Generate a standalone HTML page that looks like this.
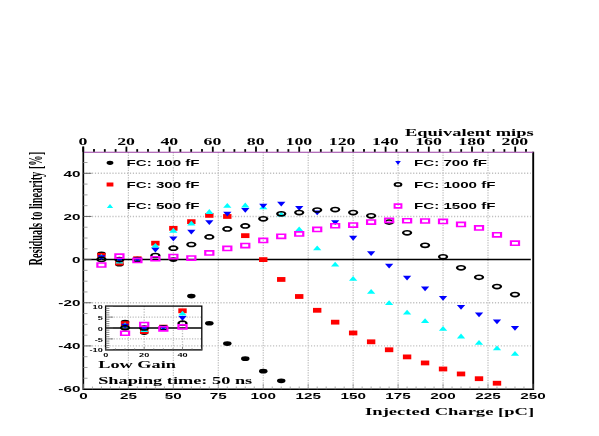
<!DOCTYPE html>
<html><head><meta charset="utf-8"><title>Residuals to linearity</title>
<style>
html,body{margin:0;padding:0;background:#fff;}
body{width:599px;height:436px;overflow:hidden;font-family:"Liberation Sans",sans-serif;}
svg{display:block;will-change:transform;}
</style></head><body>
<svg width="599" height="436" viewBox="0 0 599 436">
<rect width="599" height="436" fill="#fff"/>
<g stroke="#bcbcbc" stroke-width="1.2" stroke-dasharray="1.2 1.3" fill="none"><line x1="128.4" y1="152.2" x2="128.4" y2="389.3"/><line x1="173.35" y1="152.2" x2="173.35" y2="389.3"/><line x1="218.3" y1="152.2" x2="218.3" y2="389.3"/><line x1="263.25" y1="152.2" x2="263.25" y2="389.3"/><line x1="308.2" y1="152.2" x2="308.2" y2="389.3"/><line x1="353.15" y1="152.2" x2="353.15" y2="389.3"/><line x1="398.1" y1="152.2" x2="398.1" y2="389.3"/><line x1="443.05" y1="152.2" x2="443.05" y2="389.3"/><line x1="488" y1="152.2" x2="488" y2="389.3"/></g>
<g stroke="#c0c0c0" stroke-width="1.4" stroke-dasharray="1.2 1.72" fill="none"><line x1="83.2" y1="173.3" x2="530.8" y2="173.3"/><line x1="83.2" y1="216.45" x2="530.8" y2="216.45"/><line x1="83.2" y1="302.75" x2="530.8" y2="302.75"/><line x1="83.2" y1="345.9" x2="530.8" y2="345.9"/></g>
<line x1="83.2" y1="259.6" x2="530.8" y2="259.6" stroke="#000" stroke-width="1.5"/>
<line x1="83.3" y1="146.6" x2="83.3" y2="390" stroke="#000" stroke-width="1.7"/>
<line x1="533.2" y1="151.7" x2="533.2" y2="390" stroke="#000" stroke-width="1.9"/>
<line x1="83.2" y1="389.3" x2="533.3" y2="389.3" stroke="#000" stroke-width="1.5"/>
<line x1="83.9" y1="152.2" x2="533.3" y2="152.2" stroke="#9a3fa4" stroke-width="1.1"/>
<g stroke="#000" stroke-width="1.8"><line x1="83.2" y1="151.8" x2="83.2" y2="146.6"/><line x1="94" y1="151.8" x2="94" y2="149.1"/><line x1="104.8" y1="151.8" x2="104.8" y2="149.1"/><line x1="115.6" y1="151.8" x2="115.6" y2="149.1"/><line x1="126.4" y1="151.8" x2="126.4" y2="146.6"/><line x1="137.2" y1="151.8" x2="137.2" y2="149.1"/><line x1="148" y1="151.8" x2="148" y2="149.1"/><line x1="158.8" y1="151.8" x2="158.8" y2="149.1"/><line x1="169.6" y1="151.8" x2="169.6" y2="146.6"/><line x1="180.4" y1="151.8" x2="180.4" y2="149.1"/><line x1="191.2" y1="151.8" x2="191.2" y2="149.1"/><line x1="202" y1="151.8" x2="202" y2="149.1"/><line x1="212.8" y1="151.8" x2="212.8" y2="146.6"/><line x1="223.6" y1="151.8" x2="223.6" y2="149.1"/><line x1="234.4" y1="151.8" x2="234.4" y2="149.1"/><line x1="245.2" y1="151.8" x2="245.2" y2="149.1"/><line x1="256" y1="151.8" x2="256" y2="146.6"/><line x1="266.8" y1="151.8" x2="266.8" y2="149.1"/><line x1="277.6" y1="151.8" x2="277.6" y2="149.1"/><line x1="288.4" y1="151.8" x2="288.4" y2="149.1"/><line x1="299.2" y1="151.8" x2="299.2" y2="146.6"/><line x1="310" y1="151.8" x2="310" y2="149.1"/><line x1="320.8" y1="151.8" x2="320.8" y2="149.1"/><line x1="331.6" y1="151.8" x2="331.6" y2="149.1"/><line x1="342.4" y1="151.8" x2="342.4" y2="146.6"/><line x1="353.2" y1="151.8" x2="353.2" y2="149.1"/><line x1="364" y1="151.8" x2="364" y2="149.1"/><line x1="374.8" y1="151.8" x2="374.8" y2="149.1"/><line x1="385.6" y1="151.8" x2="385.6" y2="146.6"/><line x1="396.4" y1="151.8" x2="396.4" y2="149.1"/><line x1="407.2" y1="151.8" x2="407.2" y2="149.1"/><line x1="418" y1="151.8" x2="418" y2="149.1"/><line x1="428.8" y1="151.8" x2="428.8" y2="146.6"/><line x1="439.6" y1="151.8" x2="439.6" y2="149.1"/><line x1="450.4" y1="151.8" x2="450.4" y2="149.1"/><line x1="461.2" y1="151.8" x2="461.2" y2="149.1"/><line x1="472" y1="151.8" x2="472" y2="146.6"/><line x1="482.8" y1="151.8" x2="482.8" y2="149.1"/><line x1="493.6" y1="151.8" x2="493.6" y2="149.1"/><line x1="504.4" y1="151.8" x2="504.4" y2="149.1"/><line x1="515.2" y1="151.8" x2="515.2" y2="146.6"/><line x1="526" y1="151.8" x2="526" y2="149.1"/></g>
<g stroke="#888" stroke-width="0.7"><line x1="83.45" y1="389.3" x2="83.45" y2="383.8"/><line x1="92.44" y1="389.3" x2="92.44" y2="386.5"/><line x1="101.43" y1="389.3" x2="101.43" y2="386.5"/><line x1="110.42" y1="389.3" x2="110.42" y2="386.5"/><line x1="119.41" y1="389.3" x2="119.41" y2="386.5"/><line x1="128.4" y1="389.3" x2="128.4" y2="383.8"/><line x1="137.39" y1="389.3" x2="137.39" y2="386.5"/><line x1="146.38" y1="389.3" x2="146.38" y2="386.5"/><line x1="155.37" y1="389.3" x2="155.37" y2="386.5"/><line x1="164.36" y1="389.3" x2="164.36" y2="386.5"/><line x1="173.35" y1="389.3" x2="173.35" y2="383.8"/><line x1="182.34" y1="389.3" x2="182.34" y2="386.5"/><line x1="191.33" y1="389.3" x2="191.33" y2="386.5"/><line x1="200.32" y1="389.3" x2="200.32" y2="386.5"/><line x1="209.31" y1="389.3" x2="209.31" y2="386.5"/><line x1="218.3" y1="389.3" x2="218.3" y2="383.8"/><line x1="227.29" y1="389.3" x2="227.29" y2="386.5"/><line x1="236.28" y1="389.3" x2="236.28" y2="386.5"/><line x1="245.27" y1="389.3" x2="245.27" y2="386.5"/><line x1="254.26" y1="389.3" x2="254.26" y2="386.5"/><line x1="263.25" y1="389.3" x2="263.25" y2="383.8"/><line x1="272.24" y1="389.3" x2="272.24" y2="386.5"/><line x1="281.23" y1="389.3" x2="281.23" y2="386.5"/><line x1="290.22" y1="389.3" x2="290.22" y2="386.5"/><line x1="299.21" y1="389.3" x2="299.21" y2="386.5"/><line x1="308.2" y1="389.3" x2="308.2" y2="383.8"/><line x1="317.19" y1="389.3" x2="317.19" y2="386.5"/><line x1="326.18" y1="389.3" x2="326.18" y2="386.5"/><line x1="335.17" y1="389.3" x2="335.17" y2="386.5"/><line x1="344.16" y1="389.3" x2="344.16" y2="386.5"/><line x1="353.15" y1="389.3" x2="353.15" y2="383.8"/><line x1="362.14" y1="389.3" x2="362.14" y2="386.5"/><line x1="371.13" y1="389.3" x2="371.13" y2="386.5"/><line x1="380.12" y1="389.3" x2="380.12" y2="386.5"/><line x1="389.11" y1="389.3" x2="389.11" y2="386.5"/><line x1="398.1" y1="389.3" x2="398.1" y2="383.8"/><line x1="407.09" y1="389.3" x2="407.09" y2="386.5"/><line x1="416.08" y1="389.3" x2="416.08" y2="386.5"/><line x1="425.07" y1="389.3" x2="425.07" y2="386.5"/><line x1="434.06" y1="389.3" x2="434.06" y2="386.5"/><line x1="443.05" y1="389.3" x2="443.05" y2="383.8"/><line x1="452.04" y1="389.3" x2="452.04" y2="386.5"/><line x1="461.03" y1="389.3" x2="461.03" y2="386.5"/><line x1="470.02" y1="389.3" x2="470.02" y2="386.5"/><line x1="479.01" y1="389.3" x2="479.01" y2="386.5"/><line x1="488" y1="389.3" x2="488" y2="383.8"/><line x1="496.99" y1="389.3" x2="496.99" y2="386.5"/><line x1="505.98" y1="389.3" x2="505.98" y2="386.5"/><line x1="514.97" y1="389.3" x2="514.97" y2="386.5"/><line x1="523.96" y1="389.3" x2="523.96" y2="386.5"/><line x1="532.95" y1="389.3" x2="532.95" y2="383.8"/></g>
<g stroke="#555" stroke-width="0.9"><line x1="83.2" y1="345.9" x2="91.5" y2="345.9"/><line x1="83.2" y1="302.75" x2="91.5" y2="302.75"/><line x1="83.2" y1="259.6" x2="91.5" y2="259.6"/><line x1="83.2" y1="216.45" x2="91.5" y2="216.45"/><line x1="83.2" y1="173.3" x2="91.5" y2="173.3"/></g>
<g stroke="#8a8a8a" stroke-width="0.8"><line x1="83.2" y1="378.26" x2="87.5" y2="378.26"/><line x1="83.2" y1="367.48" x2="87.5" y2="367.48"/><line x1="83.2" y1="356.69" x2="87.5" y2="356.69"/><line x1="83.2" y1="335.11" x2="87.5" y2="335.11"/><line x1="83.2" y1="324.33" x2="87.5" y2="324.33"/><line x1="83.2" y1="313.54" x2="87.5" y2="313.54"/><line x1="83.2" y1="291.96" x2="87.5" y2="291.96"/><line x1="83.2" y1="281.18" x2="87.5" y2="281.18"/><line x1="83.2" y1="270.39" x2="87.5" y2="270.39"/><line x1="83.2" y1="248.81" x2="87.5" y2="248.81"/><line x1="83.2" y1="238.03" x2="87.5" y2="238.03"/><line x1="83.2" y1="227.24" x2="87.5" y2="227.24"/><line x1="83.2" y1="205.66" x2="87.5" y2="205.66"/><line x1="83.2" y1="194.88" x2="87.5" y2="194.88"/><line x1="83.2" y1="184.09" x2="87.5" y2="184.09"/><line x1="83.2" y1="162.51" x2="87.5" y2="162.51"/></g>
<text transform="translate(80.4 176.7) scale(1.59 1)" font-family="Liberation Sans" font-weight="bold" font-size="9.6" text-anchor="end">40</text>
<text transform="translate(80.4 219.85) scale(1.59 1)" font-family="Liberation Sans" font-weight="bold" font-size="9.6" text-anchor="end">20</text>
<text transform="translate(80.4 263) scale(1.59 1)" font-family="Liberation Sans" font-weight="bold" font-size="9.6" text-anchor="end">0</text>
<text transform="translate(80.4 306.15) scale(1.59 1)" font-family="Liberation Sans" font-weight="bold" font-size="9.6" text-anchor="end">-20</text>
<text transform="translate(80.4 349.3) scale(1.59 1)" font-family="Liberation Sans" font-weight="bold" font-size="9.6" text-anchor="end">-40</text>
<text transform="translate(80.4 392.45) scale(1.59 1)" font-family="Liberation Sans" font-weight="bold" font-size="9.6" text-anchor="end">-60</text>
<text transform="translate(83.45 398.6) scale(1.59 1)" font-family="Liberation Sans" font-weight="bold" font-size="9.6" text-anchor="middle">0</text>
<text transform="translate(128.4 398.6) scale(1.59 1)" font-family="Liberation Sans" font-weight="bold" font-size="9.6" text-anchor="middle">25</text>
<text transform="translate(173.35 398.6) scale(1.59 1)" font-family="Liberation Sans" font-weight="bold" font-size="9.6" text-anchor="middle">50</text>
<text transform="translate(218.3 398.6) scale(1.59 1)" font-family="Liberation Sans" font-weight="bold" font-size="9.6" text-anchor="middle">75</text>
<text transform="translate(263.25 398.6) scale(1.59 1)" font-family="Liberation Sans" font-weight="bold" font-size="9.6" text-anchor="middle">100</text>
<text transform="translate(308.2 398.6) scale(1.59 1)" font-family="Liberation Sans" font-weight="bold" font-size="9.6" text-anchor="middle">125</text>
<text transform="translate(353.15 398.6) scale(1.59 1)" font-family="Liberation Sans" font-weight="bold" font-size="9.6" text-anchor="middle">150</text>
<text transform="translate(398.1 398.6) scale(1.59 1)" font-family="Liberation Sans" font-weight="bold" font-size="9.6" text-anchor="middle">175</text>
<text transform="translate(443.05 398.6) scale(1.59 1)" font-family="Liberation Sans" font-weight="bold" font-size="9.6" text-anchor="middle">200</text>
<text transform="translate(488 398.6) scale(1.59 1)" font-family="Liberation Sans" font-weight="bold" font-size="9.6" text-anchor="middle">225</text>
<text transform="translate(532.95 398.6) scale(1.59 1)" font-family="Liberation Sans" font-weight="bold" font-size="9.6" text-anchor="middle">250</text>
<text transform="translate(82.9 144.6) scale(1.82 1)" font-family="Liberation Serif" font-weight="bold" font-size="9.8" text-anchor="middle">0</text>
<text transform="translate(126.1 144.6) scale(1.82 1)" font-family="Liberation Serif" font-weight="bold" font-size="9.8" text-anchor="middle">20</text>
<text transform="translate(169.3 144.6) scale(1.82 1)" font-family="Liberation Serif" font-weight="bold" font-size="9.8" text-anchor="middle">40</text>
<text transform="translate(212.5 144.6) scale(1.82 1)" font-family="Liberation Serif" font-weight="bold" font-size="9.8" text-anchor="middle">60</text>
<text transform="translate(255.7 144.6) scale(1.82 1)" font-family="Liberation Serif" font-weight="bold" font-size="9.8" text-anchor="middle">80</text>
<text transform="translate(298.9 144.6) scale(1.82 1)" font-family="Liberation Serif" font-weight="bold" font-size="9.8" text-anchor="middle">100</text>
<text transform="translate(342.1 144.6) scale(1.82 1)" font-family="Liberation Serif" font-weight="bold" font-size="9.8" text-anchor="middle">120</text>
<text transform="translate(385.3 144.6) scale(1.82 1)" font-family="Liberation Serif" font-weight="bold" font-size="9.8" text-anchor="middle">140</text>
<text transform="translate(428.5 144.6) scale(1.82 1)" font-family="Liberation Serif" font-weight="bold" font-size="9.8" text-anchor="middle">160</text>
<text transform="translate(471.7 144.6) scale(1.82 1)" font-family="Liberation Serif" font-weight="bold" font-size="9.8" text-anchor="middle">180</text>
<text transform="translate(514.9 144.6) scale(1.82 1)" font-family="Liberation Serif" font-weight="bold" font-size="9.8" text-anchor="middle">200</text>
<text transform="translate(533.7 135.5) scale(1.81 1)" font-family="Liberation Serif" font-weight="bold" font-size="10.2" text-anchor="end">Equivalent mips</text>
<text transform="translate(534.1 415) scale(1.82 1)" font-family="Liberation Serif" font-weight="bold" font-size="10.2" text-anchor="end">Injected Charge [pC]</text>
<text transform="translate(98.2 367.7) scale(1.76 1)" font-family="Liberation Serif" font-weight="bold" font-size="10.4" text-anchor="start">Low Gain</text>
<text transform="translate(98.2 383.6) scale(1.76 1)" font-family="Liberation Serif" font-weight="bold" font-size="10.4" text-anchor="start">Shaping time: 50 ns</text>
<text transform="translate(41.7 265.4) rotate(-90) scale(1 1.78)" font-family="Liberation Serif" font-weight="bold" font-size="10.35" text-anchor="start">Residuals to linearity [%]</text>
<text transform="translate(126.5 166) scale(1.68 1)" font-family="Liberation Sans" font-weight="bold" font-size="9" text-anchor="start">FC: 100 fF</text>
<text transform="translate(126.5 187.7) scale(1.68 1)" font-family="Liberation Sans" font-weight="bold" font-size="9" text-anchor="start">FC: 300 fF</text>
<text transform="translate(126.5 209.4) scale(1.68 1)" font-family="Liberation Sans" font-weight="bold" font-size="9" text-anchor="start">FC: 500 fF</text>
<text transform="translate(414 166) scale(1.68 1)" font-family="Liberation Sans" font-weight="bold" font-size="9" text-anchor="start">FC: 700 fF</text>
<text transform="translate(414 187.7) scale(1.68 1)" font-family="Liberation Sans" font-weight="bold" font-size="9" text-anchor="start">FC: 1000 fF</text>
<text transform="translate(414 209.4) scale(1.68 1)" font-family="Liberation Sans" font-weight="bold" font-size="9" text-anchor="start">FC: 1500 fF</text>
<ellipse cx="110" cy="162.8" rx="3.4" ry="2.1" fill="#000"/>
<rect x="106.6" y="182.5" width="6.8" height="4" fill="#ff0000"/>
<path d="M106.8 208.1L113.2 208.1L110 203.9Z" fill="#00ffff"/>
<path d="M395.2 161L400.8 161L398 165Z" fill="#0000ff"/>
<path d="M393.6 184.5A4.4 2.5 0 1 0 402.4 184.5A4.4 2.5 0 1 0 393.6 184.5ZM395.7 184.5A2.3 1 0 1 0 400.3 184.5A2.3 1 0 1 0 395.7 184.5Z" fill="#000" fill-rule="evenodd"/>
<path d="M393.6 203.3H402.4V208.7H393.6ZM395.6 204.9H400.4V207.1H395.6Z" fill="#ff00ff" fill-rule="evenodd"/>
<ellipse cx="101.43" cy="253.77" rx="4.25" ry="2.35" fill="#000"/>
<ellipse cx="119.41" cy="264.13" rx="4.25" ry="2.35" fill="#000"/>
<ellipse cx="137.39" cy="259.6" rx="4.25" ry="2.35" fill="#000"/>
<ellipse cx="173.35" cy="259.6" rx="4.25" ry="2.35" fill="#000"/>
<ellipse cx="191.33" cy="296.06" rx="4.25" ry="2.35" fill="#000"/>
<ellipse cx="209.31" cy="323.25" rx="4.25" ry="2.35" fill="#000"/>
<ellipse cx="227.29" cy="343.53" rx="4.25" ry="2.35" fill="#000"/>
<ellipse cx="245.27" cy="358.63" rx="4.25" ry="2.35" fill="#000"/>
<ellipse cx="263.25" cy="371.14" rx="4.25" ry="2.35" fill="#000"/>
<ellipse cx="281.23" cy="380.85" rx="4.25" ry="2.35" fill="#000"/>
<rect x="97.23" y="252.89" width="8.4" height="4.8" fill="#ff0000"/>
<rect x="115.21" y="260.65" width="8.4" height="4.8" fill="#ff0000"/>
<rect x="133.19" y="256.34" width="8.4" height="4.8" fill="#ff0000"/>
<rect x="151.17" y="240.8" width="8.4" height="4.8" fill="#ff0000"/>
<rect x="169.15" y="225.92" width="8.4" height="4.8" fill="#ff0000"/>
<rect x="187.13" y="219.23" width="8.4" height="4.8" fill="#ff0000"/>
<rect x="205.11" y="212.97" width="8.4" height="4.8" fill="#ff0000"/>
<rect x="223.09" y="214.05" width="8.4" height="4.8" fill="#ff0000"/>
<rect x="241.07" y="233.25" width="8.4" height="4.8" fill="#ff0000"/>
<rect x="259.05" y="257.2" width="8.4" height="4.8" fill="#ff0000"/>
<rect x="277.03" y="277.05" width="8.4" height="4.8" fill="#ff0000"/>
<rect x="295.01" y="294.09" width="8.4" height="4.8" fill="#ff0000"/>
<rect x="312.99" y="307.9" width="8.4" height="4.8" fill="#ff0000"/>
<rect x="330.97" y="319.77" width="8.4" height="4.8" fill="#ff0000"/>
<rect x="348.95" y="330.56" width="8.4" height="4.8" fill="#ff0000"/>
<rect x="366.93" y="339.4" width="8.4" height="4.8" fill="#ff0000"/>
<rect x="384.91" y="347.38" width="8.4" height="4.8" fill="#ff0000"/>
<rect x="402.89" y="354.5" width="8.4" height="4.8" fill="#ff0000"/>
<rect x="420.87" y="360.54" width="8.4" height="4.8" fill="#ff0000"/>
<rect x="438.85" y="366.59" width="8.4" height="4.8" fill="#ff0000"/>
<rect x="456.83" y="371.55" width="8.4" height="4.8" fill="#ff0000"/>
<rect x="474.81" y="376.29" width="8.4" height="4.8" fill="#ff0000"/>
<rect x="492.79" y="380.82" width="8.4" height="4.8" fill="#ff0000"/>
<path d="M97.28 258.76L105.58 258.76L101.43 253.96Z" fill="#00ffff"/>
<path d="M115.26 263.51L123.56 263.51L119.41 258.71Z" fill="#00ffff"/>
<path d="M133.24 262L141.54 262L137.39 257.2Z" fill="#00ffff"/>
<path d="M151.22 247.76L159.52 247.76L155.37 242.96Z" fill="#00ffff"/>
<path d="M169.2 232.66L177.5 232.66L173.35 227.86Z" fill="#00ffff"/>
<path d="M187.18 225.54L195.48 225.54L191.33 220.74Z" fill="#00ffff"/>
<path d="M205.16 213.89L213.46 213.89L209.31 209.09Z" fill="#00ffff"/>
<path d="M223.14 207.85L231.44 207.85L227.29 203.05Z" fill="#00ffff"/>
<path d="M241.12 207.42L249.42 207.42L245.27 202.62Z" fill="#00ffff"/>
<path d="M259.1 209.36L267.4 209.36L263.25 204.56Z" fill="#00ffff"/>
<path d="M277.08 216.48L285.38 216.48L281.23 211.68Z" fill="#00ffff"/>
<path d="M295.06 231.36L303.36 231.36L299.21 226.56Z" fill="#00ffff"/>
<path d="M313.04 250.35L321.34 250.35L317.19 245.55Z" fill="#00ffff"/>
<path d="M331.02 266.53L339.32 266.53L335.17 261.73Z" fill="#00ffff"/>
<path d="M349 280.77L357.3 280.77L353.15 275.97Z" fill="#00ffff"/>
<path d="M366.98 293.72L375.28 293.72L371.13 288.92Z" fill="#00ffff"/>
<path d="M384.96 304.93L393.26 304.93L389.11 300.13Z" fill="#00ffff"/>
<path d="M402.94 314.43L411.24 314.43L407.09 309.63Z" fill="#00ffff"/>
<path d="M420.92 323.06L429.22 323.06L425.07 318.26Z" fill="#00ffff"/>
<path d="M438.9 330.82L447.2 330.82L443.05 326.02Z" fill="#00ffff"/>
<path d="M456.88 338.38L465.18 338.38L461.03 333.58Z" fill="#00ffff"/>
<path d="M474.86 344.85L483.16 344.85L479.01 340.05Z" fill="#00ffff"/>
<path d="M492.84 350.24L501.14 350.24L496.99 345.44Z" fill="#00ffff"/>
<path d="M510.82 355.85L519.12 355.85L514.97 351.05Z" fill="#00ffff"/>
<path d="M97.28 255.26L105.58 255.26L101.43 260.06Z" fill="#0000ff"/>
<path d="M115.26 257.63L123.56 257.63L119.41 262.43Z" fill="#0000ff"/>
<path d="M133.24 257.2L141.54 257.2L137.39 262Z" fill="#0000ff"/>
<path d="M151.22 247.71L159.52 247.71L155.37 252.51Z" fill="#0000ff"/>
<path d="M169.2 236.49L177.5 236.49L173.35 241.29Z" fill="#0000ff"/>
<path d="M187.18 229.8L195.48 229.8L191.33 234.6Z" fill="#0000ff"/>
<path d="M205.16 220.31L213.46 220.31L209.31 225.11Z" fill="#0000ff"/>
<path d="M223.14 211.68L231.44 211.68L227.29 216.48Z" fill="#0000ff"/>
<path d="M241.12 208.01L249.42 208.01L245.27 212.81Z" fill="#0000ff"/>
<path d="M259.1 203.69L267.4 203.69L263.25 208.49Z" fill="#0000ff"/>
<path d="M277.08 201.75L285.38 201.75L281.23 206.55Z" fill="#0000ff"/>
<path d="M295.06 206.07L303.36 206.07L299.21 210.87Z" fill="#0000ff"/>
<path d="M313.04 210.38L321.34 210.38L317.19 215.18Z" fill="#0000ff"/>
<path d="M331.02 220.31L339.32 220.31L335.17 225.11Z" fill="#0000ff"/>
<path d="M349 235.84L357.3 235.84L353.15 240.64Z" fill="#0000ff"/>
<path d="M366.98 251.16L375.28 251.16L371.13 255.96Z" fill="#0000ff"/>
<path d="M384.96 263.67L393.26 263.67L389.11 268.47Z" fill="#0000ff"/>
<path d="M402.94 275.75L411.24 275.75L407.09 280.55Z" fill="#0000ff"/>
<path d="M420.92 286.54L429.22 286.54L425.07 291.34Z" fill="#0000ff"/>
<path d="M438.9 296.04L447.2 296.04L443.05 300.83Z" fill="#0000ff"/>
<path d="M456.88 304.88L465.18 304.88L461.03 309.68Z" fill="#0000ff"/>
<path d="M474.86 312.43L483.16 312.43L479.01 317.23Z" fill="#0000ff"/>
<path d="M492.84 319.55L501.14 319.55L496.99 324.35Z" fill="#0000ff"/>
<path d="M510.82 326.02L519.12 326.02L514.97 330.82Z" fill="#0000ff"/>
<path d="M96.28 259.38A5.15 2.85 0 1 0 106.58 259.38A5.15 2.85 0 1 0 96.28 259.38ZM98.53 259.38A2.9 1.25 0 1 0 104.33 259.38A2.9 1.25 0 1 0 98.53 259.38Z" fill="#000" fill-rule="evenodd"/>
<path d="M114.26 259.6A5.15 2.85 0 1 0 124.56 259.6A5.15 2.85 0 1 0 114.26 259.6ZM116.51 259.6A2.9 1.25 0 1 0 122.31 259.6A2.9 1.25 0 1 0 116.51 259.6Z" fill="#000" fill-rule="evenodd"/>
<path d="M132.24 259.6A5.15 2.85 0 1 0 142.54 259.6A5.15 2.85 0 1 0 132.24 259.6ZM134.49 259.6A2.9 1.25 0 1 0 140.29 259.6A2.9 1.25 0 1 0 134.49 259.6Z" fill="#000" fill-rule="evenodd"/>
<path d="M150.22 255.5A5.15 2.85 0 1 0 160.52 255.5A5.15 2.85 0 1 0 150.22 255.5ZM152.47 255.5A2.9 1.25 0 1 0 158.27 255.5A2.9 1.25 0 1 0 152.47 255.5Z" fill="#000" fill-rule="evenodd"/>
<path d="M168.2 248.17A5.15 2.85 0 1 0 178.5 248.17A5.15 2.85 0 1 0 168.2 248.17ZM170.45 248.17A2.9 1.25 0 1 0 176.25 248.17A2.9 1.25 0 1 0 170.45 248.17Z" fill="#000" fill-rule="evenodd"/>
<path d="M186.18 244.5A5.15 2.85 0 1 0 196.48 244.5A5.15 2.85 0 1 0 186.18 244.5ZM188.43 244.5A2.9 1.25 0 1 0 194.23 244.5A2.9 1.25 0 1 0 188.43 244.5Z" fill="#000" fill-rule="evenodd"/>
<path d="M204.16 236.95A5.15 2.85 0 1 0 214.46 236.95A5.15 2.85 0 1 0 204.16 236.95ZM206.41 236.95A2.9 1.25 0 1 0 212.21 236.95A2.9 1.25 0 1 0 206.41 236.95Z" fill="#000" fill-rule="evenodd"/>
<path d="M222.14 228.96A5.15 2.85 0 1 0 232.44 228.96A5.15 2.85 0 1 0 222.14 228.96ZM224.39 228.96A2.9 1.25 0 1 0 230.19 228.96A2.9 1.25 0 1 0 224.39 228.96Z" fill="#000" fill-rule="evenodd"/>
<path d="M240.12 225.94A5.15 2.85 0 1 0 250.42 225.94A5.15 2.85 0 1 0 240.12 225.94ZM242.37 225.94A2.9 1.25 0 1 0 248.17 225.94A2.9 1.25 0 1 0 242.37 225.94Z" fill="#000" fill-rule="evenodd"/>
<path d="M258.1 218.82A5.15 2.85 0 1 0 268.4 218.82A5.15 2.85 0 1 0 258.1 218.82ZM260.35 218.82A2.9 1.25 0 1 0 266.15 218.82A2.9 1.25 0 1 0 260.35 218.82Z" fill="#000" fill-rule="evenodd"/>
<path d="M276.08 213.86A5.15 2.85 0 1 0 286.38 213.86A5.15 2.85 0 1 0 276.08 213.86ZM278.33 213.86A2.9 1.25 0 1 0 284.13 213.86A2.9 1.25 0 1 0 278.33 213.86Z" fill="#000" fill-rule="evenodd"/>
<path d="M294.06 212.57A5.15 2.85 0 1 0 304.36 212.57A5.15 2.85 0 1 0 294.06 212.57ZM296.31 212.57A2.9 1.25 0 1 0 302.11 212.57A2.9 1.25 0 1 0 296.31 212.57Z" fill="#000" fill-rule="evenodd"/>
<path d="M312.04 209.98A5.15 2.85 0 1 0 322.34 209.98A5.15 2.85 0 1 0 312.04 209.98ZM314.29 209.98A2.9 1.25 0 1 0 320.09 209.98A2.9 1.25 0 1 0 314.29 209.98Z" fill="#000" fill-rule="evenodd"/>
<path d="M330.02 209.55A5.15 2.85 0 1 0 340.32 209.55A5.15 2.85 0 1 0 330.02 209.55ZM332.27 209.55A2.9 1.25 0 1 0 338.07 209.55A2.9 1.25 0 1 0 332.27 209.55Z" fill="#000" fill-rule="evenodd"/>
<path d="M348 212.57A5.15 2.85 0 1 0 358.3 212.57A5.15 2.85 0 1 0 348 212.57ZM350.25 212.57A2.9 1.25 0 1 0 356.05 212.57A2.9 1.25 0 1 0 350.25 212.57Z" fill="#000" fill-rule="evenodd"/>
<path d="M365.98 215.8A5.15 2.85 0 1 0 376.28 215.8A5.15 2.85 0 1 0 365.98 215.8ZM368.23 215.8A2.9 1.25 0 1 0 374.03 215.8A2.9 1.25 0 1 0 368.23 215.8Z" fill="#000" fill-rule="evenodd"/>
<path d="M383.96 222.06A5.15 2.85 0 1 0 394.26 222.06A5.15 2.85 0 1 0 383.96 222.06ZM386.21 222.06A2.9 1.25 0 1 0 392.01 222.06A2.9 1.25 0 1 0 386.21 222.06Z" fill="#000" fill-rule="evenodd"/>
<path d="M401.94 232.85A5.15 2.85 0 1 0 412.24 232.85A5.15 2.85 0 1 0 401.94 232.85ZM404.19 232.85A2.9 1.25 0 1 0 409.99 232.85A2.9 1.25 0 1 0 404.19 232.85Z" fill="#000" fill-rule="evenodd"/>
<path d="M419.92 245.36A5.15 2.85 0 1 0 430.22 245.36A5.15 2.85 0 1 0 419.92 245.36ZM422.17 245.36A2.9 1.25 0 1 0 427.97 245.36A2.9 1.25 0 1 0 422.17 245.36Z" fill="#000" fill-rule="evenodd"/>
<path d="M437.9 256.8A5.15 2.85 0 1 0 448.2 256.8A5.15 2.85 0 1 0 437.9 256.8ZM440.15 256.8A2.9 1.25 0 1 0 445.95 256.8A2.9 1.25 0 1 0 440.15 256.8Z" fill="#000" fill-rule="evenodd"/>
<path d="M455.88 267.8A5.15 2.85 0 1 0 466.18 267.8A5.15 2.85 0 1 0 455.88 267.8ZM458.13 267.8A2.9 1.25 0 1 0 463.93 267.8A2.9 1.25 0 1 0 458.13 267.8Z" fill="#000" fill-rule="evenodd"/>
<path d="M473.86 277.29A5.15 2.85 0 1 0 484.16 277.29A5.15 2.85 0 1 0 473.86 277.29ZM476.11 277.29A2.9 1.25 0 1 0 481.91 277.29A2.9 1.25 0 1 0 476.11 277.29Z" fill="#000" fill-rule="evenodd"/>
<path d="M491.84 286.57A5.15 2.85 0 1 0 502.14 286.57A5.15 2.85 0 1 0 491.84 286.57ZM494.09 286.57A2.9 1.25 0 1 0 499.89 286.57A2.9 1.25 0 1 0 494.09 286.57Z" fill="#000" fill-rule="evenodd"/>
<path d="M509.82 294.55A5.15 2.85 0 1 0 520.12 294.55A5.15 2.85 0 1 0 509.82 294.55ZM512.07 294.55A2.9 1.25 0 1 0 517.87 294.55A2.9 1.25 0 1 0 512.07 294.55Z" fill="#000" fill-rule="evenodd"/>
<path d="M96.28 262.14H106.58V267.84H96.28ZM98.48 263.74H104.38V266.24H98.48Z" fill="#ff00ff" fill-rule="evenodd"/>
<path d="M114.26 253.3H124.56V259H114.26ZM116.46 254.9H122.36V257.4H116.46Z" fill="#ff00ff" fill-rule="evenodd"/>
<path d="M132.24 257.61H142.54V263.31H132.24ZM134.44 259.21H140.34V261.71H134.44Z" fill="#ff00ff" fill-rule="evenodd"/>
<path d="M150.22 255.89H160.52V261.59H150.22ZM152.42 257.49H158.32V259.99H152.42Z" fill="#ff00ff" fill-rule="evenodd"/>
<path d="M168.2 253.73H178.5V259.43H168.2ZM170.4 255.33H176.3V257.83H170.4Z" fill="#ff00ff" fill-rule="evenodd"/>
<path d="M186.18 255.24H196.48V260.94H186.18ZM188.38 256.84H194.28V259.34H188.38Z" fill="#ff00ff" fill-rule="evenodd"/>
<path d="M204.16 250.06H214.46V255.76H204.16ZM206.36 251.66H212.26V254.16H206.36Z" fill="#ff00ff" fill-rule="evenodd"/>
<path d="M222.14 245.53H232.44V251.23H222.14ZM224.34 247.13H230.24V249.63H224.34Z" fill="#ff00ff" fill-rule="evenodd"/>
<path d="M240.12 242.73H250.42V248.43H240.12ZM242.32 244.33H248.22V246.83H242.32Z" fill="#ff00ff" fill-rule="evenodd"/>
<path d="M258.1 237.55H268.4V243.25H258.1ZM260.3 239.15H266.2V241.65H260.3Z" fill="#ff00ff" fill-rule="evenodd"/>
<path d="M276.08 233.45H286.38V239.15H276.08ZM278.28 235.05H284.18V237.55H278.28Z" fill="#ff00ff" fill-rule="evenodd"/>
<path d="M294.06 231.08H304.36V236.78H294.06ZM296.26 232.68H302.16V235.18H296.26Z" fill="#ff00ff" fill-rule="evenodd"/>
<path d="M312.04 226.55H322.34V232.25H312.04ZM314.24 228.15H320.14V230.65H314.24Z" fill="#ff00ff" fill-rule="evenodd"/>
<path d="M330.02 222.88H340.32V228.58H330.02ZM332.22 224.48H338.12V226.98H332.22Z" fill="#ff00ff" fill-rule="evenodd"/>
<path d="M348 222.23H358.3V227.93H348ZM350.2 223.83H356.1V226.33H350.2Z" fill="#ff00ff" fill-rule="evenodd"/>
<path d="M365.98 219.21H376.28V224.91H365.98ZM368.18 220.81H374.08V223.31H368.18Z" fill="#ff00ff" fill-rule="evenodd"/>
<path d="M383.96 217.48H394.26V223.18H383.96ZM386.16 219.08H392.06V221.58H386.16Z" fill="#ff00ff" fill-rule="evenodd"/>
<path d="M401.94 217.92H412.24V223.62H401.94ZM404.14 219.52H410.04V222.02H404.14Z" fill="#ff00ff" fill-rule="evenodd"/>
<path d="M419.92 218.13H430.22V223.83H419.92ZM422.12 219.73H428.02V222.23H422.12Z" fill="#ff00ff" fill-rule="evenodd"/>
<path d="M437.9 218.56H448.2V224.26H437.9ZM440.1 220.16H446V222.66H440.1Z" fill="#ff00ff" fill-rule="evenodd"/>
<path d="M455.88 221.58H466.18V227.28H455.88ZM458.08 223.18H463.98V225.68H458.08Z" fill="#ff00ff" fill-rule="evenodd"/>
<path d="M473.86 225.03H484.16V230.73H473.86ZM476.06 226.63H481.96V229.13H476.06Z" fill="#ff00ff" fill-rule="evenodd"/>
<path d="M491.84 231.94H502.14V237.64H491.84ZM494.04 233.54H499.94V236.04H494.04Z" fill="#ff00ff" fill-rule="evenodd"/>
<path d="M509.82 240.35H520.12V246.05H509.82ZM512.02 241.95H517.92V244.45H512.02Z" fill="#ff00ff" fill-rule="evenodd"/>
<g stroke="#bcbcbc" stroke-width="1.3" stroke-dasharray="1.2 1.5" fill="none"><line x1="144.2" y1="306.1" x2="144.2" y2="349.9"/><line x1="182.5" y1="306.1" x2="182.5" y2="349.9"/><line x1="105.6" y1="317.1" x2="201.8" y2="317.1"/><line x1="105.6" y1="338.9" x2="201.8" y2="338.9"/></g>
<rect x="105.6" y="306.1" width="96.2" height="43.8" fill="none" stroke="#000" stroke-width="1.3"/>
<line x1="105.6" y1="328" x2="201.8" y2="328" stroke="#000" stroke-width="1.5"/>
<g stroke="#666" stroke-width="0.8"><line x1="105.6" y1="349.8" x2="113.1" y2="349.8"/><line x1="105.6" y1="347.62" x2="109.4" y2="347.62"/><line x1="105.6" y1="345.44" x2="109.4" y2="345.44"/><line x1="105.6" y1="343.26" x2="109.4" y2="343.26"/><line x1="105.6" y1="341.08" x2="109.4" y2="341.08"/><line x1="105.6" y1="338.9" x2="113.1" y2="338.9"/><line x1="105.6" y1="336.72" x2="109.4" y2="336.72"/><line x1="105.6" y1="334.54" x2="109.4" y2="334.54"/><line x1="105.6" y1="332.36" x2="109.4" y2="332.36"/><line x1="105.6" y1="330.18" x2="109.4" y2="330.18"/><line x1="105.6" y1="328" x2="113.1" y2="328"/><line x1="105.6" y1="325.82" x2="109.4" y2="325.82"/><line x1="105.6" y1="323.64" x2="109.4" y2="323.64"/><line x1="105.6" y1="321.46" x2="109.4" y2="321.46"/><line x1="105.6" y1="319.28" x2="109.4" y2="319.28"/><line x1="105.6" y1="317.1" x2="113.1" y2="317.1"/><line x1="105.6" y1="314.92" x2="109.4" y2="314.92"/><line x1="105.6" y1="312.74" x2="109.4" y2="312.74"/><line x1="105.6" y1="310.56" x2="109.4" y2="310.56"/><line x1="105.6" y1="308.38" x2="109.4" y2="308.38"/><line x1="105.6" y1="306.2" x2="113.1" y2="306.2"/><line x1="105.9" y1="349.9" x2="105.9" y2="347.1"/><line x1="115.47" y1="349.9" x2="115.47" y2="348.4"/><line x1="125.05" y1="349.9" x2="125.05" y2="348.4"/><line x1="134.62" y1="349.9" x2="134.62" y2="348.4"/><line x1="144.2" y1="349.9" x2="144.2" y2="347.1"/><line x1="153.77" y1="349.9" x2="153.77" y2="348.4"/><line x1="163.35" y1="349.9" x2="163.35" y2="348.4"/><line x1="172.93" y1="349.9" x2="172.93" y2="348.4"/><line x1="182.5" y1="349.9" x2="182.5" y2="347.1"/><line x1="192.07" y1="349.9" x2="192.07" y2="348.4"/><line x1="201.65" y1="349.9" x2="201.65" y2="348.4"/></g>
<text transform="translate(102.8 308.8) scale(1.55 1)" font-family="Liberation Sans" font-weight="bold" font-size="5.9" text-anchor="end">10</text>
<text transform="translate(102.8 319.7) scale(1.55 1)" font-family="Liberation Sans" font-weight="bold" font-size="5.9" text-anchor="end">5</text>
<text transform="translate(102.8 330.6) scale(1.55 1)" font-family="Liberation Sans" font-weight="bold" font-size="5.9" text-anchor="end">0</text>
<text transform="translate(102.8 341.5) scale(1.55 1)" font-family="Liberation Sans" font-weight="bold" font-size="5.9" text-anchor="end">-5</text>
<text transform="translate(102.8 352.4) scale(1.55 1)" font-family="Liberation Sans" font-weight="bold" font-size="5.9" text-anchor="end">-10</text>
<text transform="translate(105.9 357.3) scale(1.55 1)" font-family="Liberation Sans" font-weight="bold" font-size="5.9" text-anchor="middle">0</text>
<text transform="translate(144.2 357.3) scale(1.55 1)" font-family="Liberation Sans" font-weight="bold" font-size="5.9" text-anchor="middle">20</text>
<text transform="translate(182.5 357.3) scale(1.55 1)" font-family="Liberation Sans" font-weight="bold" font-size="5.9" text-anchor="middle">40</text>
<ellipse cx="125.05" cy="322.11" rx="4.25" ry="2.35" fill="#000"/>
<ellipse cx="144.2" cy="332.58" rx="4.25" ry="2.35" fill="#000"/>
<ellipse cx="163.35" cy="328" rx="4.25" ry="2.35" fill="#000"/>
<rect x="120.85" y="321.24" width="8.4" height="4.8" fill="#ff0000"/>
<rect x="140" y="329.09" width="8.4" height="4.8" fill="#ff0000"/>
<rect x="159.15" y="324.73" width="8.4" height="4.8" fill="#ff0000"/>
<rect x="178.3" y="308.38" width="8.4" height="4.8" fill="#ff0000"/>
<path d="M120.9 327.13L129.2 327.13L125.05 322.33Z" fill="#00ffff"/>
<path d="M140.05 331.93L148.35 331.93L144.2 327.13Z" fill="#00ffff"/>
<path d="M159.2 330.4L167.5 330.4L163.35 325.6Z" fill="#00ffff"/>
<path d="M178.35 315.58L186.65 315.58L182.5 310.78Z" fill="#00ffff"/>
<path d="M120.9 323.64L129.2 323.64L125.05 328.44Z" fill="#0000ff"/>
<path d="M140.05 326.04L148.35 326.04L144.2 330.84Z" fill="#0000ff"/>
<path d="M159.2 325.6L167.5 325.6L163.35 330.4Z" fill="#0000ff"/>
<path d="M178.35 316.01L186.65 316.01L182.5 320.81Z" fill="#0000ff"/>
<path d="M119.9 327.78A5.15 2.85 0 1 0 130.2 327.78A5.15 2.85 0 1 0 119.9 327.78ZM122.15 327.78A2.9 1.25 0 1 0 127.95 327.78A2.9 1.25 0 1 0 122.15 327.78Z" fill="#000" fill-rule="evenodd"/>
<path d="M139.05 328A5.15 2.85 0 1 0 149.35 328A5.15 2.85 0 1 0 139.05 328ZM141.3 328A2.9 1.25 0 1 0 147.1 328A2.9 1.25 0 1 0 141.3 328Z" fill="#000" fill-rule="evenodd"/>
<path d="M158.2 328A5.15 2.85 0 1 0 168.5 328A5.15 2.85 0 1 0 158.2 328ZM160.45 328A2.9 1.25 0 1 0 166.25 328A2.9 1.25 0 1 0 160.45 328Z" fill="#000" fill-rule="evenodd"/>
<path d="M177.35 323.2A5.15 2.85 0 1 0 187.65 323.2A5.15 2.85 0 1 0 177.35 323.2ZM179.6 323.2A2.9 1.25 0 1 0 185.4 323.2A2.9 1.25 0 1 0 179.6 323.2Z" fill="#000" fill-rule="evenodd"/>
<path d="M119.9 330.38H130.2V336.08H119.9ZM122.1 331.98H128V334.48H122.1Z" fill="#ff00ff" fill-rule="evenodd"/>
<path d="M139.05 321.66H149.35V327.36H139.05ZM141.25 323.26H147.15V325.76H141.25Z" fill="#ff00ff" fill-rule="evenodd"/>
<path d="M158.2 326.02H168.5V331.72H158.2ZM160.4 327.62H166.3V330.12H160.4Z" fill="#ff00ff" fill-rule="evenodd"/>
<path d="M177.35 324.06H187.65V329.76H177.35ZM179.55 325.66H185.45V328.16H179.55Z" fill="#ff00ff" fill-rule="evenodd"/>
</svg>
</body></html>
